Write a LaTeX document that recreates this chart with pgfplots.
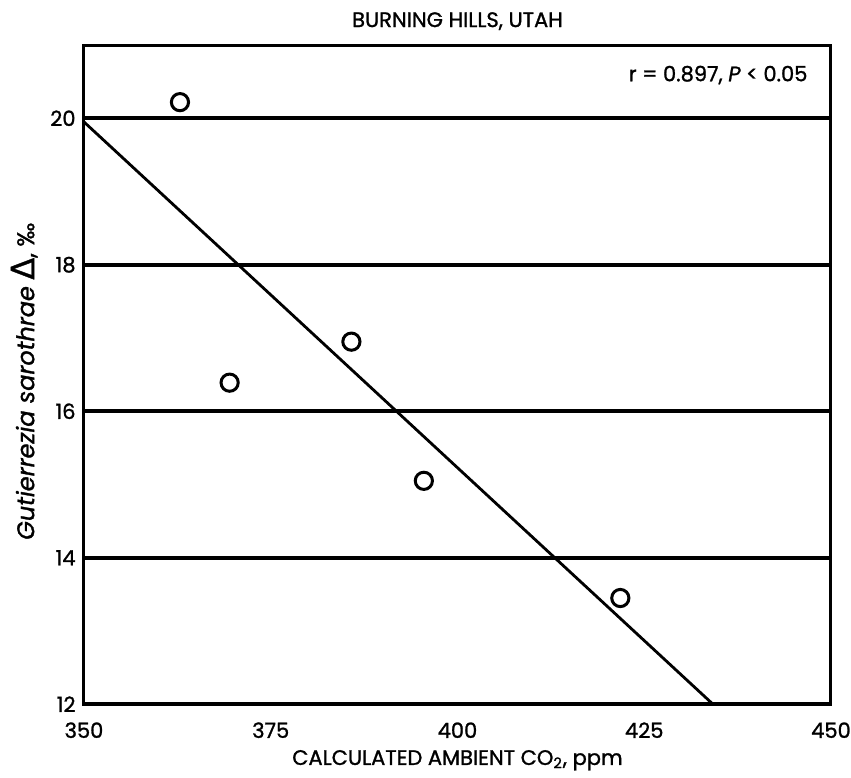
\documentclass[border=0pt]{standalone}
\usepackage{pgfplots}
\pgfplotsset{compat=1.18}
\usepackage{fontspec}
\setmainfont{Poppins}[FakeBold=1.2]
\newfontfamily\dejavu{DejaVu Sans}[FakeBold=1.2]
\begin{document}
\begin{tikzpicture}
\begin{axis}[
  scale only axis, width=373.5pt, height=329.6pt,
  xmin=350, xmax=450, ymin=12, ymax=21,
  xtick={350,375,400,425,450}, ytick={12,14,16,18,20},
  ymajorgrids, grid style={black, line width=2pt},
  axis line style={line width=1.5pt},
  major tick length=0pt,
  tick label style={font=\fontsize{10.5}{12}\selectfont},
  /pgf/number format/assume math mode=true,
  /pgf/number format/1000 sep={},
  xticklabel style={anchor=center, inner sep=0pt, yshift=-13pt},
  yticklabel style={anchor=east, inner sep=0pt, xshift=-4pt},
  title={BURNING HILLS, UTAH},
  title style={font=\fontsize{10.5}{12}\selectfont, at={(axis description cs:0.5,1.018)}, anchor=center},
  xlabel={CALCULATED AMBIENT CO\textsubscript{2}, ppm},
  xlabel style={font=\fontsize{10.5}{12}\selectfont, at={(axis description cs:0.5,-0.085)}, anchor=center},
  ylabel={\textit{Gutierrezia sarothrae} {\dejavu\fontsize{16}{16}\selectfont Δ}, ‰},
  ylabel style={font=\fontsize{12}{14}\selectfont, at={(axis description cs:-0.080,0.49)}, anchor=center},
  clip=false,
]
\path (rel axis cs:-0.1124,-0.1093) rectangle (rel axis cs:1.0268,1.0683);
\addplot[only marks, mark=o, mark size=4.3pt, line width=1.5pt] coordinates {
  (362.85,20.22) (369.5,16.39) (385.8,16.95) (395.5,15.05) (421.8,13.45)
};
\addplot[black, line width=1.4pt] coordinates {(350,19.95) (434.2,12)};
\node[anchor=east, font=\fontsize{10.5}{12}\selectfont, inner sep=0pt] at (axis cs:446.9,20.59) {r = 0.897, \textit{P} < 0.05};
\end{axis}
\end{tikzpicture}
\end{document}
